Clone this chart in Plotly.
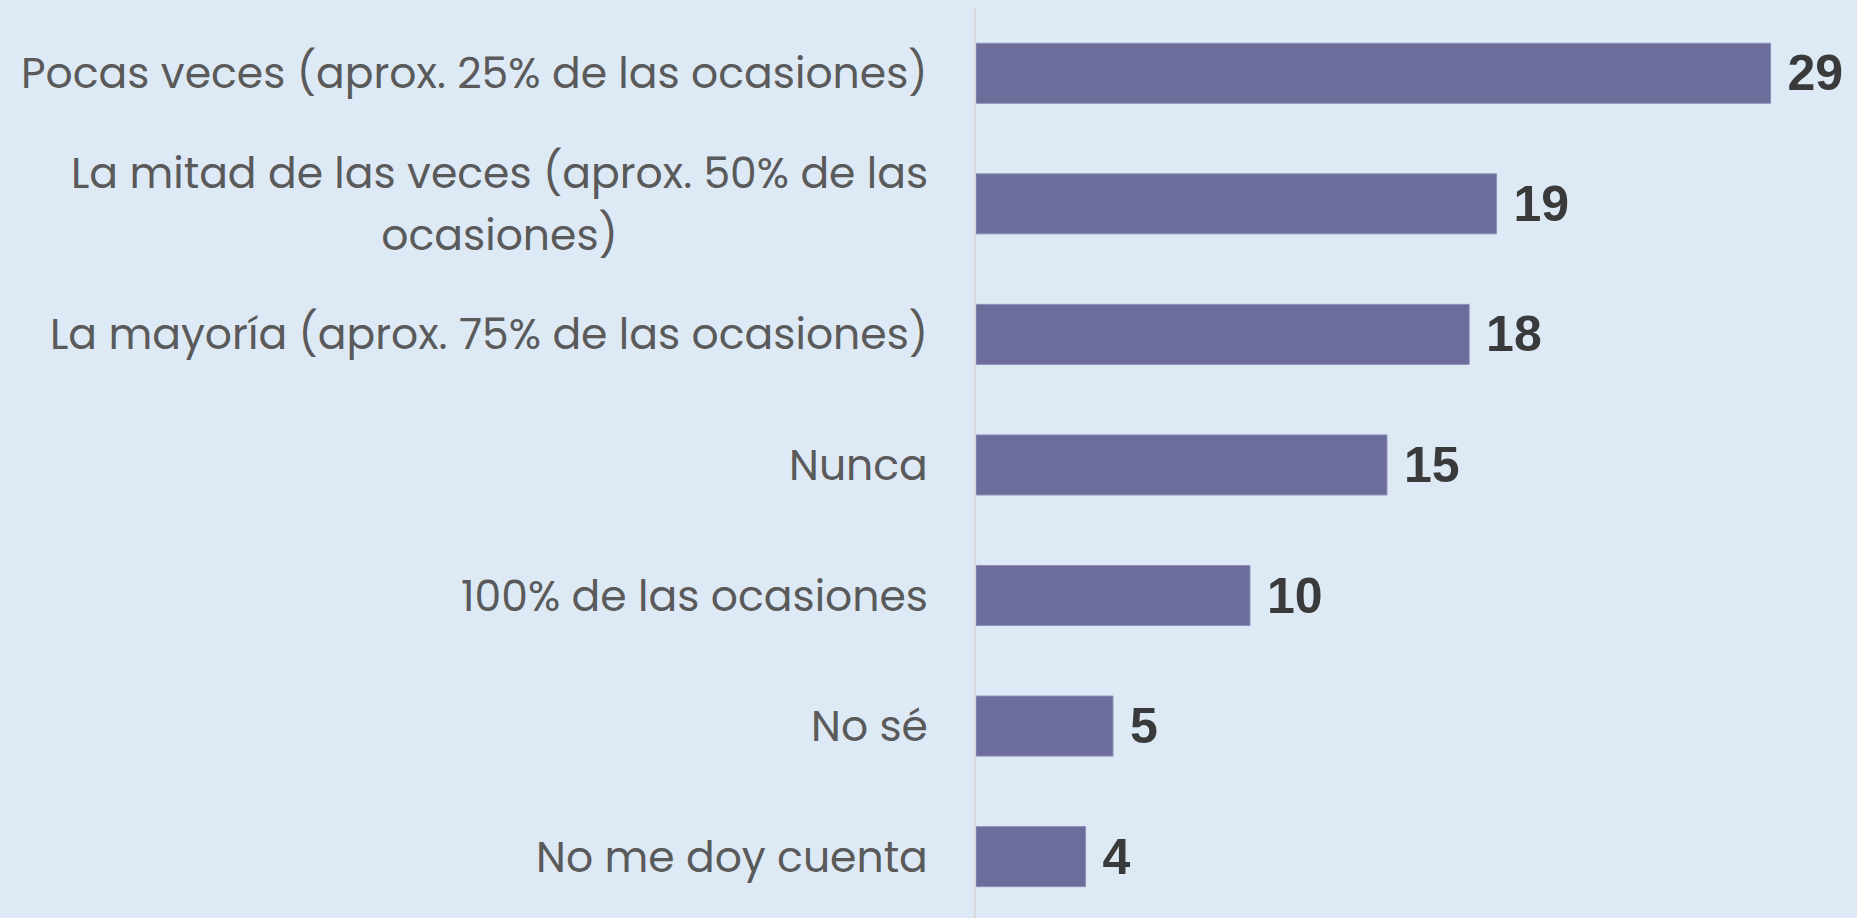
import plotly.graph_objects as go

categories = [
    "Pocas veces (aprox. 25% de las ocasiones)",
    "La mitad de las veces (aprox. 50% de las<br>ocasiones)",
    "La mayoría (aprox. 75% de las ocasiones)",
    "Nunca",
    "100% de las ocasiones",
    "No sé",
    "No me doy cuenta",
]
values = [29, 19, 18, 15, 10, 5, 4]

BG = "#DDEAF6"
BAR = "#6C6D9B"
W, H = 1857, 918
ML, MR, MT, MB = 976, 0, 8, 0

fig = go.Figure(
    go.Bar(
        x=values,
        y=categories,
        orientation="h",
        width=0.46,
        marker=dict(color=BAR, line=dict(color="#8e90b8", width=1)),
        texttemplate="\u00a0%{x}",
        textposition="outside",
        constraintext="none",
        cliponaxis=False,
        textfont=dict(family="Liberation Sans, Arial, sans-serif", size=50, color="#3a3a3a", weight="bold"),
        hoverinfo="skip",
    )
)

# category labels, centred multi-line like the reference
plot_w = W - ML - MR
for cat in categories:
    fig.add_annotation(
        x=-46 / plot_w,
        xref="paper",
        y=cat,
        yref="y",
        xanchor="right",
        yanchor="middle",
        align="center",
        showarrow=False,
        text=f'<span style="font-size:42.5px">{cat}</span>',
        font=dict(family="Poppins, Open Sans, sans-serif", size=48, color="#5a5a5a"),
    )

n = len(categories)
fig.update_layout(
    width=W,
    height=H,
    margin=dict(l=ML, r=MR, t=MT, b=MB, pad=0),
    paper_bgcolor=BG,
    plot_bgcolor=BG,
    showlegend=False,
    bargap=0.54,
    xaxis=dict(range=[0, plot_w / 27.4], visible=False, fixedrange=True),
    yaxis=dict(
        categoryorder="array",
        categoryarray=categories,
        range=[n - 0.5 - 0.03, -0.5],
        showticklabels=False,
        showgrid=False,
        zeroline=False,
        showline=True,
        linecolor="#d9dadc",
        linewidth=2,
        ticks="",
        fixedrange=True,
    ),
)

fig.write_html(
    "out.html",
    config={"displayModeBar": False},
    post_script="document.body.style.margin='0';document.body.style.background='%s';" % BG,
)
